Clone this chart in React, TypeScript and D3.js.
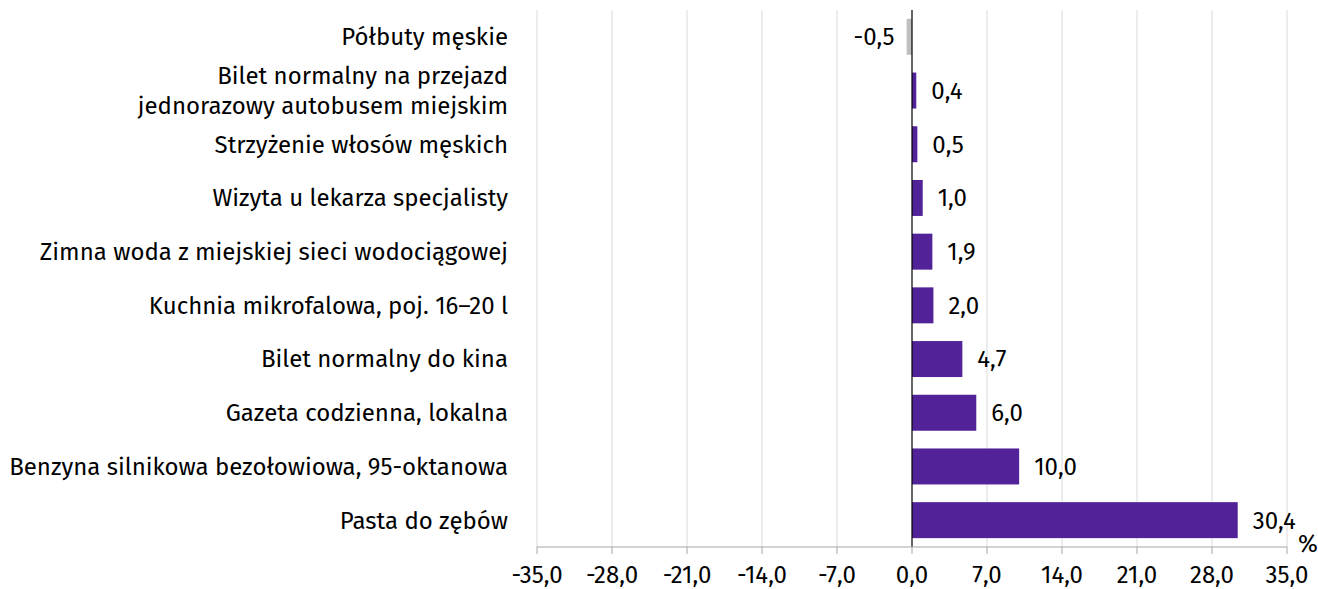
import React from 'react';
import * as d3 from 'd3';

const categories = [
  'Półbuty męskie',
  'Bilet normalny na przejazd|jednorazowy autobusem miejskim',
  'Strzyżenie włosów męskich',
  'Wizyta u lekarza specjalisty',
  'Zimna woda z miejskiej sieci wodociągowej',
  'Kuchnia mikrofalowa, poj. 16–20 l',
  'Bilet normalny do kina',
  'Gazeta codzienna, lokalna',
  'Benzyna silnikowa bezołowiowa, 95-oktanowa',
  'Pasta do zębów',
];
const values = [-0.5, 0.4, 0.5, 1.0, 1.9, 2.0, 4.7, 6.0, 10.0, 30.4];
const ticks = [-35, -28, -21, -14, -7, 0, 7, 14, 21, 28, 35];

const width = 1318;
const height = 589;
const margin = { top: 10, right: 31, bottom: 42, left: 537 };
const font = "'Fira Sans', Roboto, 'Noto Sans', sans-serif";
const fs = 24;
const fmt = (v: number) => v.toFixed(1).replace('.', ',');

const App = () => {
  const x = d3.scaleLinear().domain([-35, 35]).range([margin.left, width - margin.right]);
  const y = d3.scaleBand().domain(categories).range([margin.top, height - margin.bottom]).paddingInner(0.33).paddingOuter(0.165);
  const axisY = height - margin.bottom;

  return (
    <div style={{ position: 'absolute', left: 0, top: 0 }}>
      <svg width={width} height={height} style={{ fontFamily: font, display: 'block' }}>
        {ticks.map(t => t !== 0 && (
          <line key={'g' + t} x1={x(t)} x2={x(t)} y1={margin.top} y2={axisY} stroke="#d9d9d9" strokeWidth={1} />
        ))}
        {categories.map((c, i) => {
          const v = values[i];
          const y0 = y(c)!;
          const bw = y.bandwidth();
          const x0 = x(Math.min(0, v));
          const w = Math.abs(x(v) - x(0));
          const lines = c.split('|');
          const cy = y0 + bw / 2;
          return (
            <g key={c}>
              <rect x={x0} y={y0} width={w} height={bw} fill={v < 0 ? '#bfbfbf' : '#522398'} />
              <text
                x={v < 0 ? x(v) - 12 : x(v) + 15}
                y={cy}
                dy="0.35em"
                fontSize={fs}
                textAnchor={v < 0 ? 'end' : 'start'}
                fill="#000"
              >{fmt(v)}</text>
              <text x={508} y={cy - (lines.length - 1) * 15} fontSize={fs} textAnchor="end" fill="#000">
                {lines.map((l, j) => (
                  <tspan key={j} x={508} dy={j === 0 ? '0.35em' : 30}>{l}</tspan>
                ))}
              </text>
            </g>
          );
        })}
        <line x1={x(0)} x2={x(0)} y1={margin.top} y2={axisY} stroke="#000" strokeWidth={1.2} />
        <line x1={x(-35)} x2={x(35)} y1={axisY} y2={axisY} stroke="#a6a6a6" strokeWidth={1} />
        {ticks.map(t => (
          <g key={'t' + t}>
            <line x1={x(t)} x2={x(t)} y1={axisY} y2={axisY + 7} stroke="#a6a6a6" strokeWidth={1} />
            <text x={x(t)} y={axisY + 36} fontSize={fs} textAnchor="middle" fill="#000">{fmt(t)}</text>
          </g>
        ))}
        <text x={1298} y={552} fontSize={fs} fill="#000">%</text>
      </svg>
    </div>
  );
};

export default App;
